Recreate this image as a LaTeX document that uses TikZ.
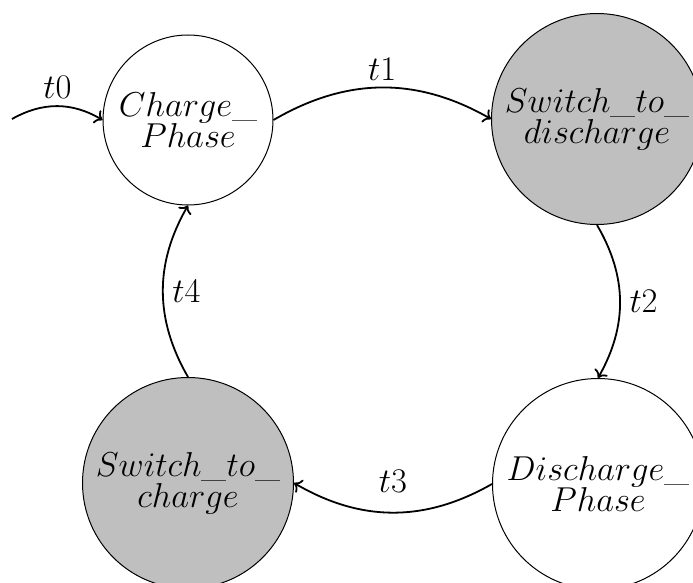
\documentclass[tikz,border=0pt]{standalone}
\usetikzlibrary{arrows.meta}
\begin{document}
\begin{tikzpicture}[x=0.5pt,y=-0.5pt,
  state/.style={circle,draw,line width=0.5pt,align=center,inner sep=0pt,
    font=\fontsize{18}{15.5}\selectfont},
  small/.style={state,minimum size=85pt},
  big/.style={state,minimum size=105.5pt},
  shaded/.style={fill=lightgray},
  trans/.style={->,line width=0.9pt},
  lbl/.style={font=\fontsize{16}{19}\selectfont}]
\useasboundingbox (0,0) rectangle (693,583);
\clip (0,0) rectangle (693,583);

% states
\node[small] (cp) at (188,120) {$Charge\_$\\$Phase$};
\node[big,shaded] (sd) at (597,119) {$Switch\_to\_$\\$discharge$};
\node[big] (dp) at (598,484) {$Discharge\_$\\$Phase$};
\node[big,shaded] (sc) at (188,483) {$Switch\_to\_$\\$charge$};
\coordinate (start) at (12,119);

% transitions
\draw[trans] (start) to[bend left=30] node[lbl,midway,above] {$t0$} (cp.west);
\draw[trans] (cp.east) to[bend left=30] node[lbl,midway,above] {$t1$} (sd.west);
\draw[trans] (sd.south) to[bend left=30] node[lbl,midway,right=1pt] {$t2$} (dp.north);
\draw[trans] (dp.west) to[bend left=30] node[lbl,midway,above=6pt] {$t3$} (sc.east);
\draw[trans] (sc.north) to[bend left=30] node[lbl,midway,right=1pt] {$t4$} (cp.south);
\end{tikzpicture}
\end{document}
